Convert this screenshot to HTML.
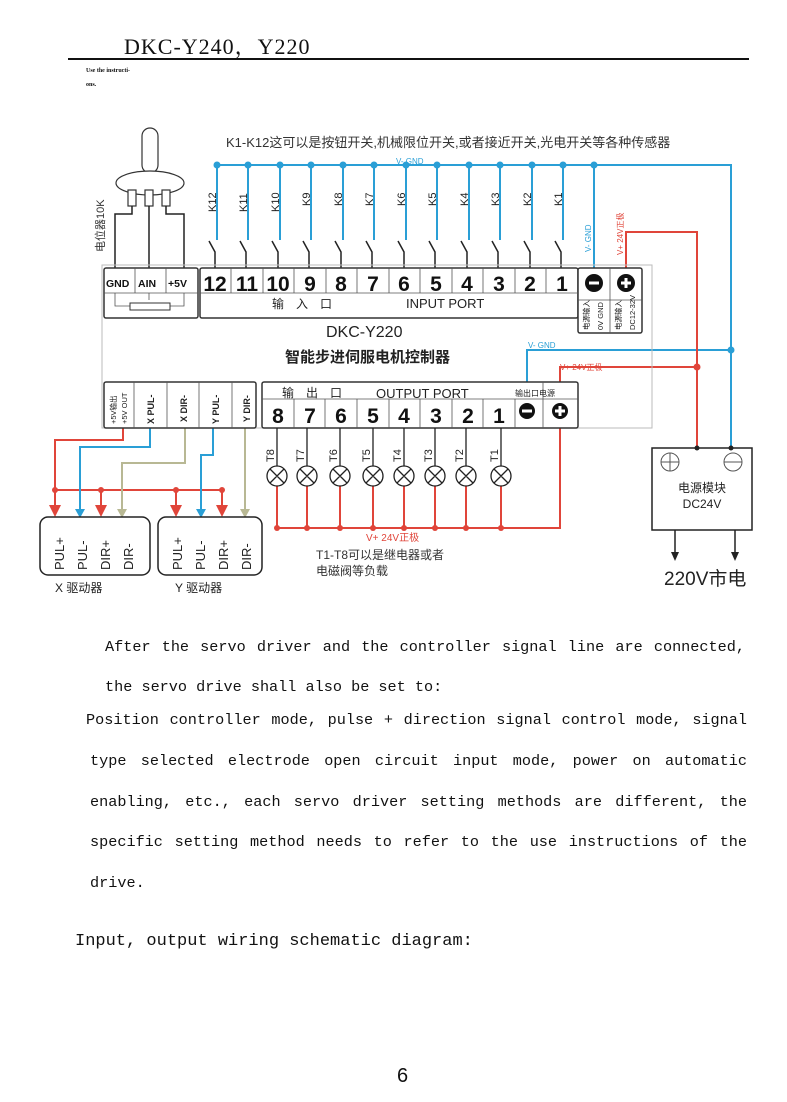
<!DOCTYPE html>
<html><head><meta charset="utf-8"><style>
body{margin:0;background:#fff;width:787px;height:1102px;position:relative;overflow:hidden;font-family:"Liberation Mono","Noto Sans CJK SC",monospace;}
.t{position:absolute;font-size:15.2px;color:#111;white-space:nowrap;}
.j{position:absolute;font-size:15.2px;color:#111;text-align:justify;text-align-last:justify;white-space:nowrap;}
</style></head><body>
<div style="position:absolute;left:124px;top:30px;font-family:'Liberation Serif','Noto Serif CJK SC',serif;font-size:22px;color:#111;letter-spacing:1px">DKC-Y240，Y220</div>
<div style="position:absolute;left:68px;top:58px;width:681px;height:2px;background:#111"></div>
<div style="position:absolute;left:86px;top:68px;font-size:6px;color:#111;font-family:'Liberation Serif',serif;font-weight:bold">Use the instructi-</div>
<div style="position:absolute;left:86px;top:82px;font-size:6px;color:#111;font-family:'Liberation Serif',serif;font-weight:bold">ons.</div>

<svg style="position:absolute;left:0;top:0" width="787" height="620" font-family="Liberation Sans,Noto Sans CJK SC,sans-serif">
<text x="226" y="147" font-size="13" fill="#333">K1-K12这可以是按钮开关,机械限位开关,或者接近开关,光电开关等各种传感器</text>
<g stroke="#2a9fd6" stroke-width="2" fill="none">
<path d="M215 165H731V448"/>
<path d="M217 165V240M248 165V240M280 165V240M311 165V240M343 165V240M374 165V240M406 165V240M437 165V240M469 165V240M500 165V240M532 165V240M563 165V240"/>
<path d="M594 165V274"/>
<path d="M527 396V350H731"/>
</g>
<text x="396" y="164" font-size="8" fill="#2a9fd6">V- GND</text>
<text x="528" y="348" font-size="8" fill="#2a9fd6">V- GND</text>
<text transform="translate(591,252) rotate(-90)" font-size="8" fill="#2a9fd6">V- GND</text>
<g fill="#2a9fd6">
<circle cx="217" cy="165" r="3.5"/><circle cx="248" cy="165" r="3.5"/><circle cx="280" cy="165" r="3.5"/><circle cx="311" cy="165" r="3.5"/><circle cx="343" cy="165" r="3.5"/><circle cx="374" cy="165" r="3.5"/><circle cx="406" cy="165" r="3.5"/><circle cx="437" cy="165" r="3.5"/><circle cx="469" cy="165" r="3.5"/><circle cx="500" cy="165" r="3.5"/><circle cx="532" cy="165" r="3.5"/><circle cx="563" cy="165" r="3.5"/><circle cx="594" cy="165" r="3.5"/><circle cx="731" cy="350" r="3.5"/>
</g>
<g stroke="#222" stroke-width="1.5" fill="none">
<path d="M209 241L215 252V270M240 241L246 252V270M272 241L278 252V270M303 241L309 252V270M335 241L341 252V270M366 241L372 252V270M398 241L404 252V270M429 241L435 252V270M461 241L467 252V270M492 241L498 252V270M524 241L530 252V270M555 241L561 252V270"/>
</g>
<g font-size="11" fill="#222">
<text transform="translate(216,212) rotate(-90)">K12</text><text transform="translate(247,212) rotate(-90)">K11</text><text transform="translate(279,212) rotate(-90)">K10</text><text transform="translate(310,206) rotate(-90)">K9</text><text transform="translate(342,206) rotate(-90)">K8</text><text transform="translate(373,206) rotate(-90)">K7</text><text transform="translate(405,206) rotate(-90)">K6</text><text transform="translate(436,206) rotate(-90)">K5</text><text transform="translate(468,206) rotate(-90)">K4</text><text transform="translate(499,206) rotate(-90)">K3</text><text transform="translate(531,206) rotate(-90)">K2</text><text transform="translate(562,206) rotate(-90)">K1</text>
</g>
<g stroke="#e0453a" stroke-width="2" fill="none">
<path d="M626 274V232H697V448"/>
<path d="M560 398V367H697"/>
<path d="M560 428V528H277"/>
<path d="M277 486V528M307 486V528M340 486V528M373 486V528M404 486V528M435 486V528M466 486V528M501 486V528"/>
<path d="M123 418V440H55V510M55 490H222M101 490V510M176 490V510M222 490V510"/>
</g>
<text transform="translate(623,255) rotate(-90)" font-size="8" fill="#e0453a">V+ 24V正极</text>
<text x="560" y="370" font-size="8" fill="#e0453a">V+ 24V正极</text>
<text x="366" y="541" font-size="10" fill="#e0453a">V+ 24V正极</text>
<g fill="#e0453a"><circle cx="697" cy="367" r="3.5"/>
<circle cx="277" cy="528" r="3"/><circle cx="307" cy="528" r="3"/><circle cx="340" cy="528" r="3"/><circle cx="373" cy="528" r="3"/><circle cx="404" cy="528" r="3"/><circle cx="435" cy="528" r="3"/><circle cx="466" cy="528" r="3"/><circle cx="501" cy="528" r="3"/>
<circle cx="55" cy="490" r="3"/><circle cx="101" cy="490" r="3"/><circle cx="176" cy="490" r="3"/><circle cx="222" cy="490" r="3"/>
<path d="M49 505h12l-6 12z"/><path d="M95 505h12l-6 12z"/><path d="M170 505h12l-6 12z"/><path d="M216 505h12l-6 12z"/></g>
<g stroke="#2a9fd6" stroke-width="2" fill="none"><path d="M150 418V447H80V512M213 418V455H201V512"/></g>
<g fill="#2a9fd6"><path d="M75 509h10l-5 9z"/><path d="M196 509h10l-5 9z"/></g>
<g stroke="#b8b894" stroke-width="2" fill="none"><path d="M185 418V463H122V512M245 418V512"/></g>
<g fill="#b8b894"><path d="M117 509h10l-5 9z"/><path d="M240 509h10l-5 9z"/></g>
<g stroke="#333" stroke-width="1.2" fill="#fff">
<rect x="142" y="128" width="16" height="45" rx="8"/>
<ellipse cx="150" cy="183" rx="34" ry="12"/>
<rect x="128" y="190" width="8" height="16"/><rect x="145" y="190" width="8" height="16"/><rect x="162" y="190" width="8" height="16"/>
</g>
<g stroke="#222" stroke-width="1.5" fill="none"><path d="M132 206V214H115V270M149 206V270M166 206V214H184V270"/></g>
<text transform="translate(104,252) rotate(-90)" font-size="11" fill="#333">电位器10K</text>
<rect x="102" y="265" width="550" height="163" fill="none" stroke="#bbb" stroke-width="1"/>
<g stroke="#333" stroke-width="1.5" fill="#fff">
<rect x="104" y="268" width="94" height="50" rx="2"/>
<rect x="200" y="268" width="378" height="50" rx="2"/>
<rect x="578" y="268" width="64" height="65" rx="2"/>
<rect x="104" y="382" width="152" height="46" rx="2"/>
<rect x="262" y="382" width="316" height="46" rx="2"/>
</g>
<g stroke="#555" stroke-width="0.8" fill="none">
<path d="M104 293H198M135 268V293M166 268V293"/>
<path d="M200 293H578M231 268V293M263 268V293M294 268V293M326 268V293M357 268V293M389 268V293M420 268V293M452 268V293M483 268V293M515 268V293M546 268V293"/>
<path d="M610 268V333M578 300H642"/>
<path d="M134 382V428M167 382V428M199 382V428M232 382V428"/>
<path d="M262 399H578M294 399V428M325 399V428M357 399V428M389 399V428M420 399V428M452 399V428M483 399V428M515 399V428M543 382V428"/>
<path d="M115 293V306H130M184 293V306H170M149 293V300"/>
</g>
<rect x="130" y="303" width="40" height="7" fill="#fff" stroke="#333"/>
<g font-weight="bold" fill="#111">
<text x="106" y="287" font-size="10.5">GND</text><text x="138" y="287" font-size="10.5">AIN</text><text x="168" y="287" font-size="10.5">+5V</text>
<g font-size="21" text-anchor="middle">
<text x="215" y="291">12</text><text x="247" y="291">11</text><text x="278" y="291">10</text><text x="310" y="291">9</text><text x="341" y="291">8</text><text x="373" y="291">7</text><text x="404" y="291">6</text><text x="436" y="291">5</text><text x="467" y="291">4</text><text x="499" y="291">3</text><text x="530" y="291">2</text><text x="562" y="291">1</text>
<text x="278" y="423">8</text><text x="310" y="423">7</text><text x="341" y="423">6</text><text x="373" y="423">5</text><text x="404" y="423">4</text><text x="436" y="423">3</text><text x="468" y="423">2</text><text x="499" y="423">1</text>
</g></g>
<text x="272" y="308" font-size="12" fill="#222">输　入　口</text>
<text x="406" y="308" font-size="13" fill="#222">INPUT PORT</text>
<text x="282" y="397" font-size="12" fill="#222">输　出　口</text>
<text x="376" y="398" font-size="13" fill="#222">OUTPUT PORT</text>
<text x="515" y="396" font-size="8" fill="#222">输出口电源</text>
<g fill="#111"><circle cx="594" cy="283" r="9"/><circle cx="626" cy="283" r="9"/><circle cx="527" cy="411" r="8"/><circle cx="560" cy="411" r="8"/></g>
<g stroke="#fff" stroke-width="3"><path d="M589 283H599M621 283H631M626 278V288M522 411H532M555 411H565M560 406V416"/></g>
<g font-size="7.5" fill="#222"><text transform="translate(589,330) rotate(-90)">电源输入</text><text transform="translate(603,330) rotate(-90)">0V GND</text><text transform="translate(621,330) rotate(-90)">电源输入</text><text transform="translate(635,330) rotate(-90)">DC12-32V</text>
<text transform="translate(116,424) rotate(-90)">+5V输出</text><text transform="translate(127,424) rotate(-90)">+5V OUT</text></g>
<g font-size="9" fill="#222" font-weight="bold"><text transform="translate(154,424) rotate(-90)">X PUL-</text><text transform="translate(187,422) rotate(-90)">X DIR-</text><text transform="translate(219,424) rotate(-90)">Y PUL-</text><text transform="translate(250,422) rotate(-90)">Y DIR-</text></g>
<text x="326" y="337" font-size="16" fill="#222">DKC-Y220</text>
<text x="285" y="362" font-size="15" font-weight="bold" fill="#222">智能步进伺服电机控制器</text>
<g stroke="#222" stroke-width="1.3" fill="#fff">
<path d="M277 428V466M307 428V466M340 428V466M373 428V466M404 428V466M435 428V466M466 428V466M501 428V466"/>
<g><circle cx="277" cy="476" r="10"/><circle cx="307" cy="476" r="10"/><circle cx="340" cy="476" r="10"/><circle cx="373" cy="476" r="10"/><circle cx="404" cy="476" r="10"/><circle cx="435" cy="476" r="10"/><circle cx="466" cy="476" r="10"/><circle cx="501" cy="476" r="10"/></g>
<path fill="none" d="M270 469l14 14M284 469l-14 14M300 469l14 14M314 469l-14 14M333 469l14 14M347 469l-14 14M366 469l14 14M380 469l-14 14M397 469l14 14M411 469l-14 14M428 469l14 14M442 469l-14 14M459 469l14 14M473 469l-14 14M494 469l14 14M508 469l-14 14"/>
</g>
<g font-size="11" fill="#222"><text transform="translate(274,462) rotate(-90)">T8</text><text transform="translate(304,462) rotate(-90)">T7</text><text transform="translate(337,462) rotate(-90)">T6</text><text transform="translate(370,462) rotate(-90)">T5</text><text transform="translate(401,462) rotate(-90)">T4</text><text transform="translate(432,462) rotate(-90)">T3</text><text transform="translate(463,462) rotate(-90)">T2</text><text transform="translate(498,462) rotate(-90)">T1</text></g>
<text x="316" y="559" font-size="12" fill="#333">T1-T8可以是继电器或者</text>
<text x="316" y="575" font-size="12" fill="#333">电磁阀等负载</text>
<g stroke="#222" stroke-width="1.5" fill="#fff"><rect x="40" y="517" width="110" height="58" rx="8"/><rect x="158" y="517" width="104" height="58" rx="8"/></g>
<g font-size="13" fill="#222"><text transform="translate(64,570) rotate(-90)">PUL+</text><text transform="translate(87,570) rotate(-90)">PUL-</text><text transform="translate(110,570) rotate(-90)">DIR+</text><text transform="translate(133,570) rotate(-90)">DIR-</text>
<text transform="translate(182,570) rotate(-90)">PUL+</text><text transform="translate(205,570) rotate(-90)">PUL-</text><text transform="translate(228,570) rotate(-90)">DIR+</text><text transform="translate(251,570) rotate(-90)">DIR-</text></g>
<text x="55" y="592" font-size="12" fill="#222">X 驱动器</text><text x="175" y="592" font-size="12" fill="#222">Y 驱动器</text>
<rect x="652" y="448" width="100" height="82" fill="#fff" stroke="#222" stroke-width="1.5"/>
<g fill="#222"><circle cx="697" cy="448" r="2.5"/><circle cx="731" cy="448" r="2.5"/></g>
<g stroke="#555" fill="none" stroke-width="1"><circle cx="670" cy="462" r="9"/><path d="M661 462H679M670 453V471"/><circle cx="733" cy="462" r="9"/><path d="M724 462H742"/></g>
<text x="702" y="492" font-size="12" text-anchor="middle" fill="#222">电源模块</text>
<text x="702" y="508" font-size="12" text-anchor="middle" fill="#222">DC24V</text>
<g stroke="#222" stroke-width="1.5"><path d="M675 530V555M735 530V555"/></g>
<g fill="#222"><path d="M671 552h8l-4 9z"/><path d="M731 552h8l-4 9z"/></g>
<text x="664" y="585" font-size="19" fill="#222">220V市电</text>
</svg>

<div class="j" style="left:105px;top:638px;width:640px">After the servo driver and the controller signal line are connected,</div>
<div class="t" style="left:105px;top:678px">the servo drive shall also be set to:</div>
<div class="j" style="left:86px;top:711px;width:661px">Position controller mode, pulse + direction signal control mode, signal</div>
<div class="j" style="left:90px;top:752px;width:657px">type selected electrode open circuit input mode, power on automatic</div>
<div class="j" style="left:90px;top:793px;width:657px">enabling, etc., each servo driver setting methods are different, the</div>
<div class="j" style="left:90px;top:833px;width:657px">specific setting method needs to refer to the use instructions of the</div>
<div class="t" style="left:90px;top:874px">drive.</div>
<div class="t" style="left:75px;top:932px;font-size:17px">Input, output wiring schematic diagram:</div>
<div style="position:absolute;left:397px;top:1065px;font-family:'Liberation Sans',sans-serif;font-size:20px;color:#111">6</div>
</body></html>
